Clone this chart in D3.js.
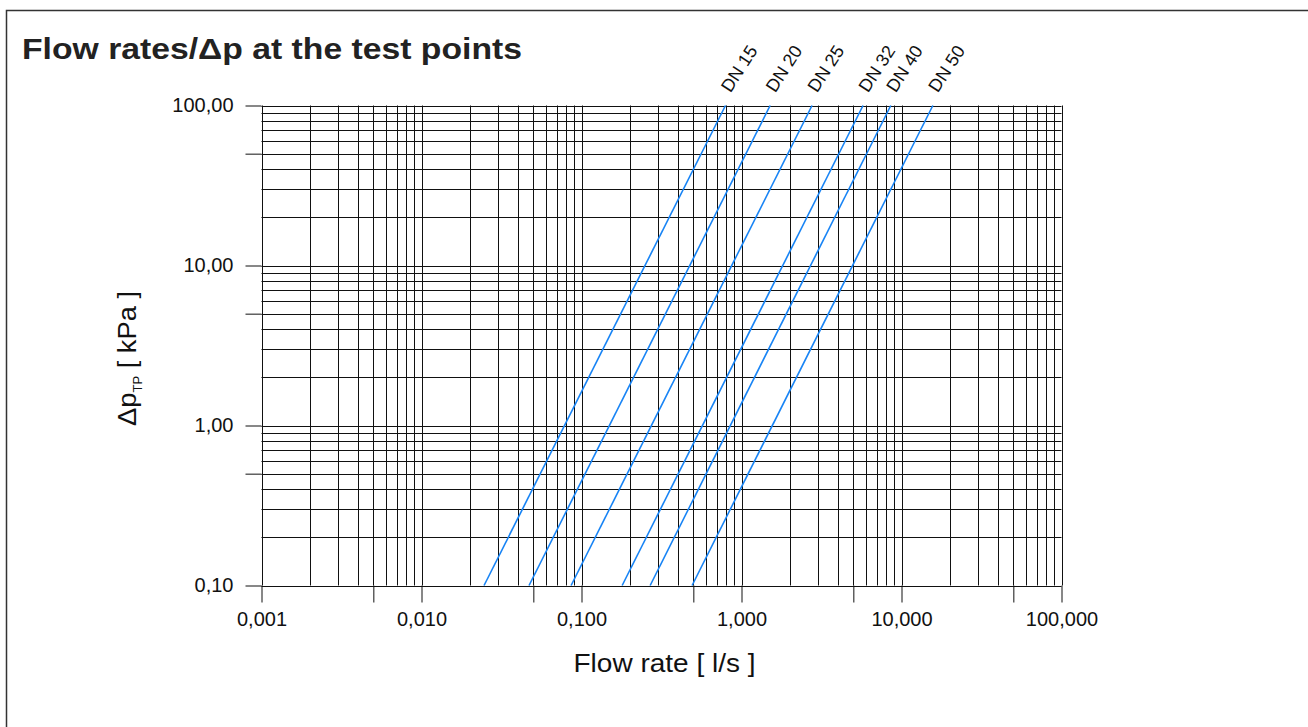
<!DOCTYPE html>
<html>
<head>
<meta charset="utf-8">
<script src="https://cdn.jsdelivr.net/npm/d3@7"></script>
<style>
  html, body { margin: 0; padding: 0; background: #fff; }
  svg { display: block; font-family: "Liberation Sans", Arial, sans-serif; }
</style>
</head>
<body>
<svg id="chart" width="1308" height="727"></svg>
<script>
// chart data
var series = ['DN 15', 'DN 20', 'DN 25', 'DN 32', 'DN 40', 'DN 50'];
var flowAtLow = [0.0246, 0.047, 0.0861, 0.1795, 0.2686, 0.491];   // l/s at 0,10 kPa
var flowAtHigh = [0.794, 1.51, 2.76, 5.75, 8.57, 15.7];          // l/s at 100,00 kPa
var dpEnds = [0.1, 100];
var xTickValues = [0.001, 0.01, 0.1, 1, 10, 100];
var xHalfTicks = [0.005, 0.05, 0.5, 5, 50];
var yTickValues = [0.1, 1, 10, 100];
var yHalfTicks = [0.5, 5, 50];

var svg = d3.select('#chart');
var plotL = 261.5, plotR = 1061.5, plotT = 105.5, plotB = 585.5;
var blue = '#1884f5';

var locale = d3.formatLocale({ decimal: ',', thousands: '.', grouping: [3], currency: ['', ''] });
var fmtX = locale.format('.3f');
var fmtY = locale.format('.2f');

var x = d3.scaleLog().domain([0.001, 100]).range([plotL, plotR]);
var y = d3.scaleLog().domain([0.1, 100]).range([plotB, plotT]);

// outer frame (left and top only)
svg.append('path')
  .attr('d', 'M6.5,727 V10.5 H1308')
  .attr('fill', 'none')
  .attr('stroke', '#333')
  .attr('stroke-width', 1.5);

svg.append('text')
  .attr('x', 22).attr('y', 59)
  .attr('font-size', 29).attr('font-weight', 'bold')
  .attr('textLength', 500).attr('lengthAdjust', 'spacingAndGlyphs')
  .attr('fill', '#222')
  .text('Flow rates/Δp at the test points');

// log grid
var grid = svg.append('g').attr('stroke', '#111').attr('stroke-width', 1);
grid.selectAll('line.v').data(x.ticks()).enter().append('line')
  .attr('class', 'v')
  .attr('x1', function (d) { return Math.round(x(d)) + 0.5; })
  .attr('x2', function (d) { return Math.round(x(d)) + 0.5; })
  .attr('y1', plotT).attr('y2', plotB);
grid.selectAll('line.h').data(y.ticks()).enter().append('line')
  .attr('class', 'h')
  .attr('y1', function (d) { return Math.round(y(d)) + 0.5; })
  .attr('y2', function (d) { return Math.round(y(d)) + 0.5; })
  .attr('x1', plotL).attr('x2', plotR);

// axes
function styleAxis (g) {
  g.select('.domain').remove();
  g.selectAll('.tick line').attr('stroke', '#111');
  g.selectAll('.tick text').attr('fill', '#111').attr('font-size', 20)
    .attr('font-family', '"Liberation Sans", Arial, sans-serif');
}

svg.append('g')
  .attr('transform', 'translate(0,' + plotB + ')')
  .call(d3.axisBottom(x).tickValues(xTickValues).tickFormat(fmtX).tickSize(17).tickPadding(9))
  .call(styleAxis);
svg.append('g')
  .attr('transform', 'translate(0,' + plotB + ')')
  .call(d3.axisBottom(x).tickValues(xHalfTicks).tickFormat('').tickSize(17))
  .call(styleAxis);

svg.append('g')
  .attr('transform', 'translate(' + plotL + ',0)')
  .call(d3.axisLeft(y).tickValues(yTickValues).tickFormat(fmtY).tickSize(16).tickPadding(12))
  .call(styleAxis);
svg.append('g')
  .attr('transform', 'translate(' + plotL + ',0)')
  .call(d3.axisLeft(y).tickValues(yHalfTicks).tickFormat('').tickSize(16))
  .call(styleAxis);

// DN curves
var line = d3.line()
  .x(function (d) { return x(d.q); })
  .y(function (d) { return y(d.dp); });

var curves = series.map(function (name, i) {
  return { name: name, pts: [ { q: flowAtLow[i], dp: dpEnds[0] }, { q: flowAtHigh[i], dp: dpEnds[1] } ] };
});

svg.append('g').selectAll('path').data(curves).enter().append('path')
  .attr('d', function (d) { return line(d.pts); })
  .attr('fill', 'none')
  .attr('stroke', blue)
  .attr('stroke-width', 1.6);

svg.append('g').selectAll('text').data(curves).enter().append('text')
  .attr('transform', function (d) {
    var p = d.pts[1];
    return 'translate(' + (x(p.q) + 5) + ',' + (y(p.dp) - 12) + ') rotate(-57)';
  })
  .attr('font-size', 18)
  .attr('fill', '#111')
  .text(function (d) { return d.name; });

// axis titles
var yt = svg.append('text')
  .attr('transform', 'translate(136,' + ((plotT + plotB) / 2 + 13) + ') rotate(-90)')
  .attr('text-anchor', 'middle')
  .attr('font-size', 25)
  .attr('textLength', 135).attr('lengthAdjust', 'spacingAndGlyphs')
  .attr('fill', '#111');
yt.append('tspan').text('Δp');
yt.append('tspan').attr('font-size', 12).attr('dy', 6).text('TP');
yt.append('tspan').attr('dy', -6).text(' [ kPa ]');

svg.append('text')
  .attr('x', (plotL + plotR) / 2 + 3).attr('y', 672)
  .attr('text-anchor', 'middle')
  .attr('font-size', 25)
  .attr('textLength', 182).attr('lengthAdjust', 'spacingAndGlyphs')
  .attr('fill', '#111')
  .text('Flow rate [ l/s ]');
</script>
</body>
</html>
